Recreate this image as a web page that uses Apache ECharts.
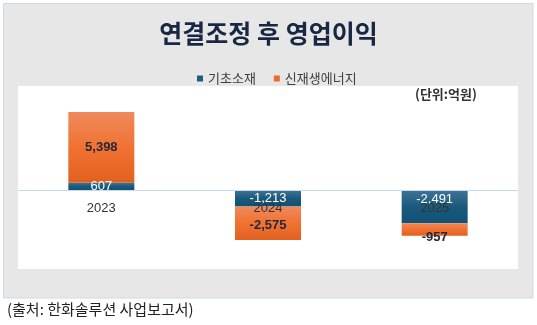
<!DOCTYPE html>
<html>
<head>
<meta charset="utf-8">
<script src="https://cdn.jsdelivr.net/npm/echarts@6/dist/echarts.min.js"></script>
<style>
  html, body { margin: 0; padding: 0; background: #ffffff; }
  #chart { width: 537px; height: 325px; }
</style>
</head>
<body>
<div id="chart"></div>
<script>
// Operating profit after consolidation adjustments (unit: 100M KRW)
const years = ['2023', '2024', '2025'];
const basicMaterials = [607, -1213, -2491];     // 기초소재
const renewableEnergy = [5398, -2575, -957];    // 신재생에너지
const seriesNames = ['기초소재', '신재생에너지'];

const KR = '"Noto Sans CJK KR", "Noto Sans", sans-serif';
const NUM = '"Liberation Sans", Arial, "Noto Sans CJK KR", sans-serif';

const Y_MIN = -6000, Y_MAX = 8000;
const GRID_TOP = 86, GRID_H = 183;
// the category axis sits on the zero line of the value axis
const zeroOffset = -GRID_H * (0 - Y_MIN) / (Y_MAX - Y_MIN);

const fmt = v => v.toLocaleString('en-US');

// vertical nudges for a few value labels that sit off-centre
const blueLabelShift = [0, 0, -7];
const orangeLabelShift = [0, 2, 8];

const blueFill = new echarts.graphic.LinearGradient(0, 0, 0, 1, [
  { offset: 0, color: '#3f7395' },
  { offset: 0.5, color: '#19597c' },
  { offset: 1, color: '#0f5275' }
]);
const orangeFill = new echarts.graphic.LinearGradient(0, 0, 0, 1, [
  { offset: 0, color: '#ef8a5c' },
  { offset: 0.5, color: '#f07232' },
  { offset: 1, color: '#e2601f' }
]);

const withShift = (values, shifts) => values.map((v, i) => ({
  value: v,
  label: { offset: [0, shifts[i]] }
}));

const chart = echarts.init(document.getElementById('chart'), null, { renderer: 'canvas' });

chart.setOption({
  animation: false,
  backgroundColor: '#ffffff',
  graphic: [
    {
      type: 'rect', z: -10,
      shape: { x: 3.5, y: 3.5, width: 529.5, height: 294.5 },
      style: { fill: '#e7e7e7', stroke: '#c8dcef', lineWidth: 1 }
    },
    {
      type: 'text', left: 415, top: 88, z: 10,
      style: { text: '(단위:억원)', font: 'bold 13px ' + KR, fill: '#333333' }
    },
    {
      type: 'text', left: 7, top: 302,
      style: { text: '(출처: 한화솔루션 사업보고서)', font: '15px ' + KR, fill: '#222222' }
    }
  ],
  title: {
    text: '연결조정 후 영업이익',
    left: 'center', top: 21, padding: 0,
    textStyle: { fontFamily: KR, fontSize: 25, fontWeight: 'bold', color: '#182843' }
  },
  legend: {
    data: [
      { name: seriesNames[0], itemStyle: { color: '#1c5e80' } },
      { name: seriesNames[1], itemStyle: { color: '#ee6a2c' } }
    ],
    left: 197, top: 72, padding: 0,
    itemWidth: 6, itemHeight: 6, itemGap: 18,
    icon: 'rect',
    textStyle: { fontFamily: KR, fontSize: 13, color: '#404040' }
  },
  grid: {
    left: 18, right: 19, top: GRID_TOP, height: GRID_H,
    show: true, backgroundColor: '#ffffff', borderWidth: 0
  },
  xAxis: {
    type: 'category',
    data: years,
    z: 5,
    position: 'bottom',
    offset: zeroOffset,
    axisLine: { onZero: false, lineStyle: { color: '#c5daf0', width: 1 } },
    axisTick: { show: false },
    axisLabel: { fontFamily: NUM, fontSize: 13, color: '#333333', margin: 11 }
  },
  yAxis: {
    type: 'value',
    min: Y_MIN, max: Y_MAX, interval: 2000,
    show: false,
    splitLine: { show: false }
  },
  series: [
    {
      name: seriesNames[0],
      type: 'bar', stack: 'total', barWidth: 66,
      data: withShift(basicMaterials, blueLabelShift),
      itemStyle: { color: blueFill },
      label: {
        show: true, position: 'inside',
        fontFamily: NUM, fontSize: 13, color: '#ffffff',
        formatter: p => fmt(p.value)
      }
    },
    {
      name: seriesNames[1],
      type: 'bar', stack: 'total', barWidth: 66,
      data: withShift(renewableEnergy, orangeLabelShift),
      itemStyle: { color: orangeFill },
      label: {
        show: true, position: 'inside',
        fontFamily: NUM, fontSize: 13, fontWeight: 'bold', color: '#26283a',
        formatter: p => fmt(p.value)
      }
    }
  ]
});
</script>
</body>
</html>
